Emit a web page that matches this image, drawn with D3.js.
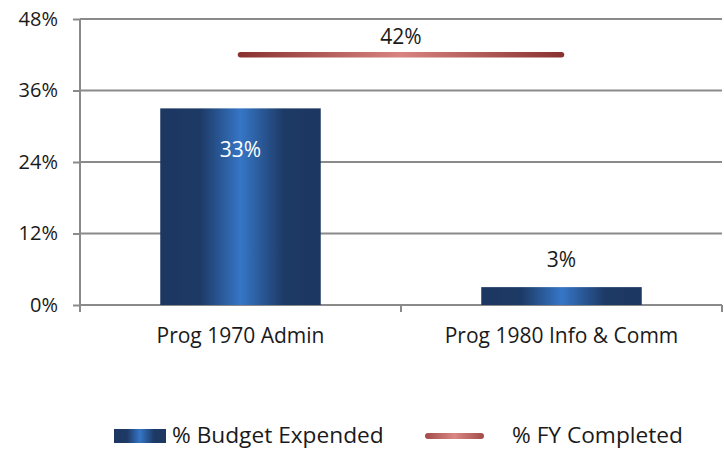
<!DOCTYPE html>
<html>
<head>
<meta charset="utf-8">
<script src="https://cdn.jsdelivr.net/npm/d3@7"></script>
<style>
  body { margin: 0; background: #fff; }
  svg { display: block; font-family: "Open Sans", "Noto Sans", sans-serif; }
</style>
</head>
<body>
<svg id="chart" width="724" height="451"></svg>
<script>
// data
var categories = ['Prog 1970 Admin', 'Prog 1980 Info & Comm']
var budgetExpended = [33, 3]
var fyCompleted = [42, 42]
var yTicks = [0, 12, 24, 36, 48]
var seriesNames = ['% Budget Expended', '% FY Completed']

// layout
var width = 724, height = 451
var margin = { left: 80, right: 2, top: 19, bottom: 146 }
var gridColor = '#8a8a8a'
var textColor = '#1a1a1a'

var svg = d3.select('#chart')
var defs = svg.append('defs')

var barGrad = defs.append('linearGradient').attr('id', 'barGrad')
  .attr('x1', '0%').attr('x2', '100%').attr('y1', '0%').attr('y2', '0%')
barGrad.selectAll('stop').data([
  [0, '#1c3760'], [0.25, '#1d3a66'], [0.5, '#3676c6'], [0.77, '#1d3a66'], [1, '#1c3760']
]).enter().append('stop')
  .attr('offset', d => d[0]).attr('stop-color', d => d[1])

var x = d3.scaleBand().domain(categories)
  .range([margin.left, width - margin.right])
var y = d3.scaleLinear().domain([0, 48])
  .range([height - margin.bottom, margin.top])
var cx = c => x(c) + x.bandwidth() / 2

var lineGrad = defs.append('linearGradient').attr('id', 'lineGrad')
  .attr('gradientUnits', 'userSpaceOnUse')
  .attr('x1', cx(categories[0])).attr('x2', cx(categories[1]))
  .attr('y1', 0).attr('y2', 0)
lineGrad.selectAll('stop').data([
  [0, '#8a3330'], [0.5, '#d78380'], [1, '#8a3330']
]).enter().append('stop')
  .attr('offset', d => d[0]).attr('stop-color', d => d[1])

// gridlines
svg.append('g').selectAll('line').data(yTicks.slice(1)).enter().append('line')
  .attr('x1', margin.left).attr('x2', width - margin.right)
  .attr('y1', d => y(d)).attr('y2', d => y(d))
  .attr('stroke', gridColor).attr('stroke-width', 2)

// y axis
var yAxis = svg.append('g').attr('transform', 'translate(' + margin.left + ',0)')
  .call(d3.axisLeft(y).tickValues(yTicks).tickFormat(d => d + '%').tickSize(7).tickPadding(15))
yAxis.select('.domain').attr('stroke', gridColor).attr('stroke-width', 2)
  .attr('d', 'M0,' + (y(0) + 7) + 'V' + margin.top)
yAxis.selectAll('.tick line').attr('stroke', gridColor).attr('stroke-width', 2)
yAxis.selectAll('.tick text').attr('font-size', 20).attr('fill', textColor)
  .attr('font-family', '"Open Sans", sans-serif')

// x axis
var xAxis = svg.append('g').attr('transform', 'translate(0,' + y(0) + ')')
xAxis.append('line')
  .attr('x1', margin.left).attr('x2', width - margin.right)
  .attr('stroke', gridColor).attr('stroke-width', 2)
var edges = [margin.left].concat(categories.map(c => x(c) + x.bandwidth()))
xAxis.selectAll('.xt').data(edges).enter().append('line')
  .attr('x1', d => d).attr('x2', d => d).attr('y1', 0).attr('y2', 7)
  .attr('stroke', gridColor).attr('stroke-width', 2)
xAxis.selectAll('text').data(categories).enter().append('text')
  .attr('x', d => cx(d)).attr('y', 38)
  .attr('text-anchor', 'middle').attr('font-size', 21).attr('fill', textColor)
  .text(d => d)

// bars
var barW = x.bandwidth() / 2
svg.append('g').selectAll('rect').data(budgetExpended).enter().append('rect')
  .attr('x', (d, i) => cx(categories[i]) - barW / 2)
  .attr('width', barW)
  .attr('y', d => y(d))
  .attr('height', d => y(0) - y(d))
  .attr('fill', 'url(#barGrad)')

svg.append('g').selectAll('text').data(budgetExpended).enter().append('text')
  .attr('x', (d, i) => cx(categories[i]))
  .attr('y', d => d > 10 ? y(d) + 49 : y(d) - 20)
  .attr('text-anchor', 'middle').attr('font-size', 21)
  .attr('fill', d => d > 10 ? '#fff' : textColor)
  .text(d => d + '%')

// line
var line = d3.line()
  .x((d, i) => cx(categories[i]))
  .y(d => y(d))
svg.append('path').datum(fyCompleted)
  .attr('d', line)
  .attr('fill', 'none')
  .attr('stroke', 'url(#lineGrad)')
  .attr('stroke-width', 5.5)
  .attr('stroke-linecap', 'round')

svg.append('text')
  .attr('x', (cx(categories[0]) + cx(categories[1])) / 2)
  .attr('y', y(fyCompleted[0]) - 11)
  .attr('text-anchor', 'middle').attr('font-size', 21).attr('fill', textColor)
  .text(fyCompleted[0] + '%')

// legend
var legend = svg.append('g').attr('transform', 'translate(0,436)')
legend.append('rect').attr('x', 114).attr('y', -7).attr('width', 52).attr('height', 14)
  .attr('fill', 'url(#barGrad)')
legend.append('text').attr('x', 172).attr('y', 7).attr('font-size', 22.7).attr('fill', textColor)
  .text(seriesNames[0])

var legGrad = defs.append('linearGradient').attr('id', 'legGrad')
legGrad.selectAll('stop').data([
  [0, '#a24c4a'], [0.5, '#d98784'], [1, '#a24c4a']
]).enter().append('stop')
  .attr('offset', d => d[0]).attr('stop-color', d => d[1])
legend.append('rect').attr('x', 425).attr('y', -3).attr('width', 59).attr('height', 6)
  .attr('rx', 3).attr('fill', 'url(#legGrad)')
legend.append('text').attr('x', 512).attr('y', 7).attr('font-size', 22.7).attr('fill', textColor)
  .text(seriesNames[1])
</script>
</body>
</html>
